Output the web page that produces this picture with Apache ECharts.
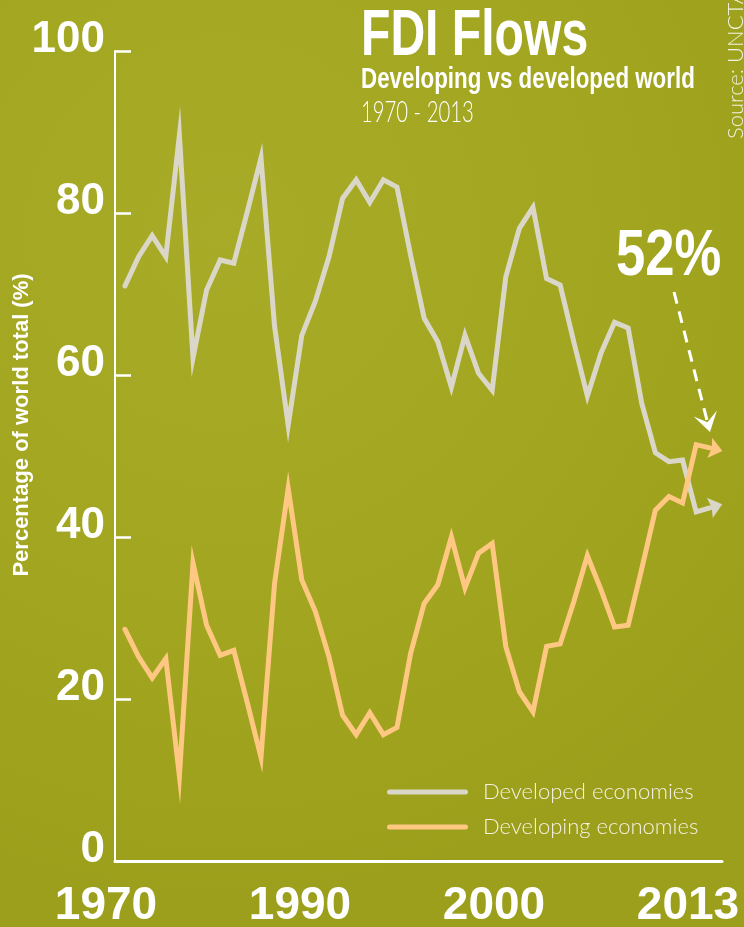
<!DOCTYPE html>
<html>
<head>
<meta charset="utf-8">
<title>FDI Flows</title>
<script src="https://cdn.jsdelivr.net/npm/echarts@6/dist/echarts.min.js"></script>
<style>
  html, body { margin: 0; padding: 0; background: #a1a41e; }
  #chart { width: 744px; height: 927px; }
</style>
</head>
<body>
<div id="chart"></div>
<script>
// years 1970 - 2013, share of world FDI inflows (%)
const years = [1970, 1971, 1972, 1973, 1974, 1975, 1976, 1977, 1978, 1979,
  1980, 1981, 1982, 1983, 1984, 1985, 1986, 1987, 1988, 1989,
  1990, 1991, 1992, 1993, 1994, 1995, 1996, 1997, 1998, 1999,
  2000, 2001, 2002, 2003, 2004, 2005, 2006, 2007, 2008, 2009,
  2010, 2011, 2012, 2013]
const developed = [71.0, 74.6, 77.2, 74.6, 89.6, 62.1, 70.5, 74.2, 73.8, 80.2,
  86.8, 66.0, 53.8, 64.9, 69.1, 74.6, 81.8, 84.1, 81.3, 84.1,
  83.2, 74.8, 67.0, 64.1, 58.5, 64.9, 60.2, 58.1, 72.1, 78.1,
  80.7, 71.9, 71.1, 64.1, 57.4, 62.7, 66.5, 65.8, 56.5, 50.4,
  49.3, 49.5, 43.1, 43.6]
const developing = [28.6, 25.2, 22.6, 25.0, 10.5, 36.8, 29.1, 25.4, 26.0, 19.5,
  12.8, 34.3, 46.0, 34.7, 30.8, 25.2, 18.0, 15.6, 18.3, 15.6,
  16.5, 25.6, 31.8, 34.1, 40.0, 33.7, 38.0, 39.2, 26.5, 20.9,
  18.4, 26.5, 26.8, 32.0, 37.7, 33.5, 28.9, 29.1, 36.1, 43.3,
  45.0, 44.2, 51.4, 51.0]
const yearLabels = ['1970', '1990', '2000', '2013']
const seriesNames = ['Developed economies', 'Developing economies']

const GRAY = '#dad7c9'
const ORANGE = '#fec883'
const WHITE = '#ffffff'
const BOLD = "'Liberation Sans', Roboto, sans-serif"
const LIGHT = "Lato, 'Open Sans', sans-serif"

// grid geometry, used only to tilt the arrow heads along the last segment
const X_MIN = 1969.265, X_MAX = 2013.9
const GRID = { left: 115, right: 22, top: 51, bottom: 66 }
const pxPerYear = (744 - GRID.left - GRID.right) / (X_MAX - X_MIN)
const pxPerUnit = (927 - GRID.top - GRID.bottom) / 100

const ARROW = 'path://M0,0L13,10.5L0,21L2,10.5Z'

function toPoints(values) {
  return values.map((v, i) => {
    if (i < values.length - 1) return [years[i], v]
    const dy = (v - values[i - 1]) * pxPerUnit
    const dx = (years[i] - years[i - 1]) * pxPerYear
    const ang = Math.atan2(dy, dx)
    return {
      value: [years[i], v],
      symbol: ARROW,
      symbolSize: [13, 21],
      symbolRotate: ang * 180 / Math.PI,
      symbolOffset: [6.5 * Math.cos(ang), -6.5 * Math.sin(ang)]
    }
  })
}

function lineSeries(name, values, color) {
  return {
    name,
    type: 'line',
    data: toPoints(values),
    symbol: 'none',
    color,
    itemStyle: { color, borderWidth: 0 },
    lineStyle: { color, width: 5, join: 'miter', miterLimit: 20, cap: 'round' },
    emphasis: { disabled: true },
    silent: true
  }
}

// dashed pointer from "52%" down to the end of the developing line
const tip = [710, 432], tail = [674, 292]
const len = Math.hypot(tip[0] - tail[0], tip[1] - tail[1])
const d = [(tip[0] - tail[0]) / len, (tip[1] - tail[1]) / len]
const n = [d[1], -d[0]]
const back = [tip[0] - 19 * d[0], tip[1] - 19 * d[1]]
const notch = [tip[0] - 10 * d[0], tip[1] - 10 * d[1]]

const chart = echarts.init(document.getElementById('chart'), null, { renderer: 'canvas' })

chart.setOption({
  animation: false,
  backgroundColor: {
    type: 'radial', x: 0.3, y: 0.25, r: 0.9,
    colorStops: [
      { offset: 0, color: '#a8ab27' },
      { offset: 0.6, color: '#a2a51f' },
      { offset: 1, color: '#9c9f1b' }
    ]
  },
  grid: [
    { left: GRID.left, right: GRID.right, top: GRID.top, bottom: GRID.bottom, outerBoundsMode: 'none' },
    { left: 106, right: 56, top: 880, height: 1, outerBoundsMode: 'none' }
  ],
  legend: {
    data: seriesNames,
    orient: 'vertical',
    left: 387,
    top: 780,
    padding: 0,
    itemWidth: 81,
    itemHeight: 5,
    itemGap: 11,
    icon: 'path://M2.5,0H78.5A2.5,2.5,0,0,1,78.5,5H2.5A2.5,2.5,0,0,1,2.5,0Z',
    textStyle: { color: '#f4f1e4', fontFamily: LIGHT, fontWeight: 300, fontSize: 22, lineHeight: 24, padding: [0, 0, 0, 10] },
    selectedMode: false
  },
  xAxis: [
    {
      type: 'value',
      gridIndex: 0,
      min: X_MIN,
      max: X_MAX,
      axisLine: { show: true, onZero: false, lineStyle: { color: WHITE, width: 3 } },
      axisTick: { show: false },
      axisLabel: { show: false },
      splitLine: { show: false }
    },
    {
      type: 'category',
      gridIndex: 1,
      data: yearLabels,
      boundaryGap: false,
      axisLine: { show: false },
      axisTick: { show: false },
      axisLabel: {
        color: WHITE, fontFamily: BOLD, fontWeight: 'bold', fontSize: 46,
        verticalAlign: 'middle', margin: 25, interval: 0
      }
    }
  ],
  yAxis: [
    {
      type: 'value',
      gridIndex: 0,
      min: 0,
      max: 100,
      interval: 20,
      name: 'Percentage of world total (%)',
      nameLocation: 'middle',
      nameGap: 82,
      nameMoveOverlap: false,
      nameTextStyle: { color: WHITE, fontFamily: BOLD, fontWeight: 'bold', fontSize: 22, padding: [0, 0, 0, 62] },
      axisLine: { show: true, lineStyle: { color: WHITE, width: 2 } },
      axisTick: { show: true, inside: true, length: 16, lineStyle: { color: WHITE, width: 2.5 } },
      axisLabel: {
        margin: 10,
        verticalAlign: 'bottom',
        formatter: '{v|{value}}',
        rich: {
          v: { color: WHITE, fontFamily: BOLD, fontWeight: 'bold', fontSize: 44, lineHeight: 22 }
        }
      },
      splitLine: { show: false }
    },
    { type: 'value', gridIndex: 1, min: 0, max: 1, show: false }
  ],
  series: [
    lineSeries(seriesNames[0], developed, GRAY),
    lineSeries(seriesNames[1], developing, ORANGE)
  ],
  graphic: [
    {
      type: 'text', x: 361, y: 37, scaleX: 0.74,
      style: { text: 'FDI Flows', fill: WHITE, fontFamily: BOLD, fontWeight: 'bold', fontSize: 65, align: 'left', verticalAlign: 'middle' }
    },
    {
      type: 'text', x: 361, y: 80, scaleX: 0.77,
      style: { text: 'Developing vs developed world', fill: WHITE, fontFamily: BOLD, fontWeight: 'bold', fontSize: 29, align: 'left', verticalAlign: 'middle' }
    },
    {
      type: 'text', x: 361, y: 113, scaleX: 0.7,
      style: { text: '1970 - 2013', fill: WHITE, fontFamily: LIGHT, fontWeight: 300, fontSize: 29, align: 'left', verticalAlign: 'middle' }
    },
    {
      type: 'text', x: 736, y: 139, rotation: Math.PI / 2,
      style: { text: 'Source: UNCTAD', fill: 'rgba(255,255,255,0.85)', fontFamily: LIGHT, fontWeight: 300, fontSize: 22, align: 'left', verticalAlign: 'middle' }
    },
    {
      type: 'text', x: 616, y: 257, scaleX: 0.81,
      style: { text: '52%', fill: WHITE, fontFamily: BOLD, fontWeight: 'bold', fontSize: 65, align: 'left', verticalAlign: 'middle' }
    },
    {
      type: 'line',
      shape: { x1: tail[0], y1: tail[1], x2: notch[0], y2: notch[1] },
      style: { stroke: WHITE, lineWidth: 3, lineDash: [12, 8] }
    },
    {
      type: 'polygon',
      shape: {
        points: [
          tip,
          [back[0] + 12 * n[0], back[1] + 12 * n[1]],
          notch,
          [back[0] - 12 * n[0], back[1] - 12 * n[1]]
        ]
      },
      style: { fill: WHITE }
    }
  ]
})
</script>
</body>
</html>
